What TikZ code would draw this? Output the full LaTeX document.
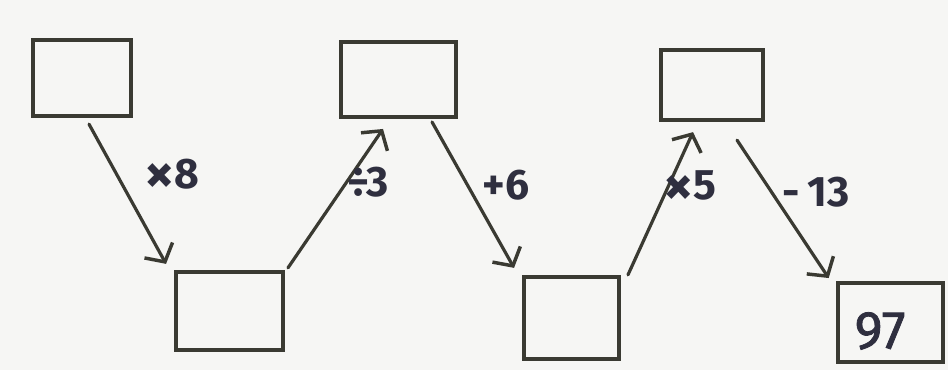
\documentclass[tikz,border=0pt]{standalone}
\usepackage{fontspec}
\setmainfont{Fira Sans}
\usetikzlibrary{arrows.meta,calc}
\definecolor{ink}{HTML}{3A3A32}
\definecolor{pen}{HTML}{2F2F3F}
\definecolor{paper}{HTML}{F6F6F4}
\newcommand{\bigtimes}{\raisebox{-4pt}{\fontsize{44}{34}\selectfont ×}}
\begin{document}
\begin{tikzpicture}[x=0.75pt,y=-0.75pt,
  box/.style={draw=ink,line width=3.2pt,inner sep=0pt},
  conn/.style={draw=ink,line width=2.4pt,line cap=round,
    -{Straight Barb[length=10pt,width=24pt,line width=2.6pt]}},
  lbl/.style={text=pen,font=\fontsize{32}{34}\selectfont\bfseries,inner sep=0pt}]
\useasboundingbox (0,0) rectangle (948,370);
\fill[paper] (0,0) rectangle (948,370);
\node[box,minimum width=73.5pt,minimum height=57pt] (b1) at (82,78) {};
\node[box,minimum width=80pt,minimum height=58.5pt] (b2) at (229.5,311) {};
\node[box,minimum width=86pt,minimum height=56pt] (b3) at (398.5,79.5) {};
\node[box,minimum width=71pt,minimum height=61.5pt] (b4) at (571.5,318) {};
\node[box,minimum width=76.5pt,minimum height=52.5pt] (b5) at (712,85) {};
\node[box,minimum width=79pt,minimum height=59pt] (b6) at (890.5,322.5) {};
\node[text=pen,font=\fontsize{40}{42}\selectfont\mdseries,inner sep=0pt] (v) at (880,331) {\addfontfeature{FakeBold=1.5}97};
\draw[conn] ($(b1.south)+(7,6)$) -- ($(b2.north west)+(-8,-6)$);
\draw[conn] ($(b2.north east)+(3,-2)$) -- ($(b3.south)+(-15.5,10)$);
\draw[conn] ($(b3.south)+(33.5,3)$) -- ($(b4.north west)+(-8,-7)$);
\draw[conn] ($(b4.north east)+(7,0)$) -- ($(b5.south)+(-19,10)$);
\draw[conn] ($(b5.south)+(25,18)$) -- ($(b6.north west)+(-7,-3)$);
\node[lbl] (l1) at (172,176) {\bigtimes8};
\node[lbl] (l2) at (368,182) {÷3};
\node[lbl] (l3) at (506,185) {+6};
\node[lbl] (l4) at (690,188) {\bigtimes5};
\node[lbl] (l5) at (816,192) {-\,13};
\end{tikzpicture}
\end{document}
